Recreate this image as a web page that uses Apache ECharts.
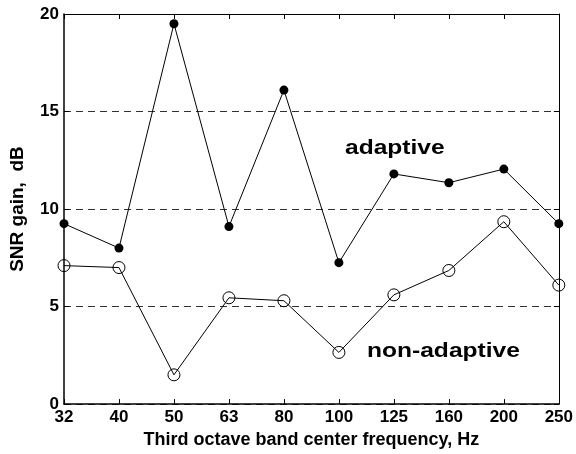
<!DOCTYPE html>
<html>
<head>
<meta charset="utf-8">
<script src="https://cdn.jsdelivr.net/npm/echarts@6/dist/echarts.min.js"></script>
<style>
html,body{margin:0;padding:0;background:#fff;}
#chart{width:576px;height:454px;}
</style>
</head>
<body>
<div id="chart"></div>
<script>
const categories = ['32','40','50','63','80','100','125','160','200','250'];
const adaptive = [9.25, 8.0, 19.5, 9.1, 16.1, 7.25, 11.8, 11.35, 12.05, 9.25];
const nonAdaptive = [7.1, 7.0, 1.5, 5.45, 5.3, 2.65, 5.6, 6.85, 9.35, 6.1];
const yTicks = [0, 5, 10, 15, 20];

const FONT = '"Liberation Sans", Arial, Helvetica, sans-serif';
const chart = echarts.init(document.getElementById('chart'), null, {renderer: 'canvas'});

const option = {
  animation: false,
  backgroundColor: '#fff',
  grid: {left: 63, right: 15, top: 14, bottom: 48, containLabel: false},
  xAxis: [{
    type: 'category',
    data: categories,
    boundaryGap: false,
    position: 'bottom',
    name: 'Third octave band center frequency, Hz',
    nameLocation: 'middle',
    nameGap: 21,
    nameTextStyle: {fontFamily: FONT, fontWeight: 'bold', fontSize: 18, color: '#000'},
    axisLine: {show: true, onZero: false, lineStyle: {color: '#000', width: 1.5}},
    axisTick: {show: true, inside: true, length: 5, alignWithLabel: true, lineStyle: {color: '#000'}},
    axisLabel: {fontFamily: FONT, fontWeight: 'bold', fontSize: 17, color: '#000', margin: 5},
    splitLine: {show: false}
  }, {
    type: 'category',
    data: categories,
    boundaryGap: false,
    position: 'top',
    axisLine: {show: true, onZero: false, lineStyle: {color: '#000', width: 1}},
    axisTick: {show: true, inside: true, length: 5, lineStyle: {color: '#000'}},
    axisLabel: {show: false},
    splitLine: {show: false}
  }],
  yAxis: [{
    type: 'value',
    min: yTicks[0],
    max: yTicks[yTicks.length - 1],
    interval: 5,
    position: 'left',
    name: 'SNR gain,  dB',
    nameLocation: 'middle',
    nameRotate: 90,
    nameGap: 37,
    nameTextStyle: {fontFamily: FONT, fontWeight: 'bold', fontSize: 19, color: '#000'},
    axisLine: {show: true, onZero: false, lineStyle: {color: '#000', width: 1.5}},
    axisTick: {show: true, inside: true, length: 5, lineStyle: {color: '#000'}},
    axisLabel: {fontFamily: FONT, fontWeight: 'bold', fontSize: 17, color: '#000', margin: 5},
    splitLine: {show: true, lineStyle: {color: '#333', width: 1, type: [7, 5]}}
  }, {
    type: 'value',
    min: yTicks[0],
    max: yTicks[yTicks.length - 1],
    interval: 5,
    position: 'right',
    axisLine: {show: true, onZero: false, lineStyle: {color: '#000', width: 1}},
    axisTick: {show: true, inside: true, length: 5, lineStyle: {color: '#000'}},
    axisLabel: {show: false},
    splitLine: {show: false}
  }],
  series: [{
    name: 'adaptive',
    type: 'line',
    data: adaptive,
    symbol: 'circle',
    symbolSize: 9,
    clip: false,
    lineStyle: {color: '#000', width: 1},
    itemStyle: {color: '#000'},
    z: 3
  }, {
    name: 'non-adaptive',
    type: 'line',
    data: nonAdaptive,
    symbol: 'circle',
    symbolSize: 12,
    clip: false,
    lineStyle: {color: '#000', width: 1},
    itemStyle: {color: 'rgba(0,0,0,0)', borderColor: '#000', borderWidth: 1},
    z: 3
  }],
  graphic: [{
    type: 'text',
    x: 345, y: 148,
    scaleX: 1.17,
    style: {text: 'adaptive', font: 'bold 21px ' + FONT, fill: '#000', textVerticalAlign: 'middle', textAlign: 'left'}
  }, {
    type: 'text',
    x: 367, y: 351,
    scaleX: 1.17,
    style: {text: 'non-adaptive', font: 'bold 21px ' + FONT, fill: '#000', textVerticalAlign: 'middle', textAlign: 'left'}
  }]
};
chart.setOption(option);
</script>
</body>
</html>
